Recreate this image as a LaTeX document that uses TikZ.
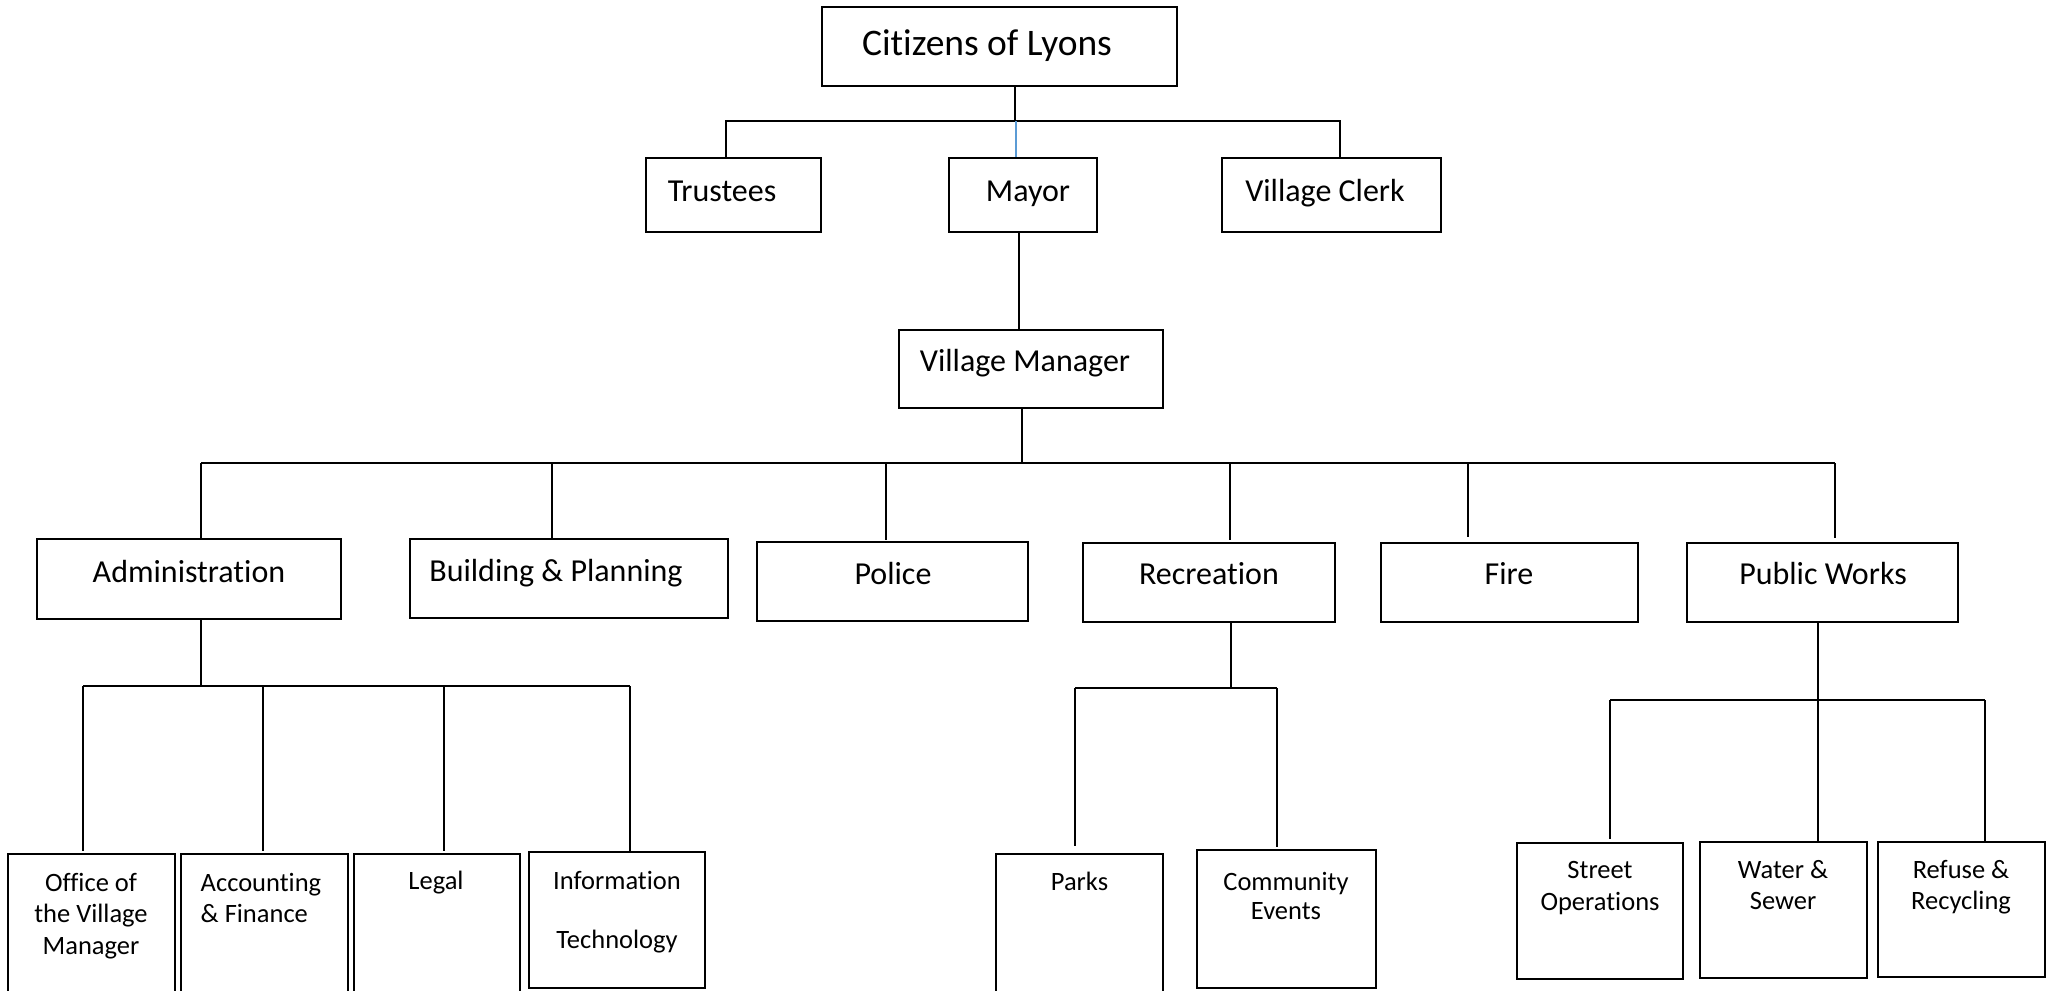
\documentclass[tikz,border=0pt]{standalone}
\usepackage{fontspec}
\setmainfont{Carlito}[Ligatures=NoCommon]
\usetikzlibrary{fit}
\definecolor{linkblue}{RGB}{91,155,213}
\tikzset{
  obox/.style={draw=black, line width=2.2pt, inner sep=0pt, rectangle},
  conn/.style={draw=black, line width=2pt},
  bconn/.style={draw=linkblue, line width=1.6pt},
  tA/.style={font=\fontsize{37.5}{45}\selectfont, anchor=base, inner sep=0pt},
  tB/.style={font=\fontsize{32}{39}\selectfont, anchor=base, inner sep=0pt},
  tC/.style={font=\fontsize{26.5}{31.5}\selectfont, inner sep=0pt},
}
\begin{document}
\begin{tikzpicture}[x=1pt, y=-1pt]
\clip (0,0) rectangle (2049,990);
\fill[white] (0,0) rectangle (2049,990);

% ---- boxes ----
\node[obox, fit={(822,7) (1177,86)}] (cit) {};
\node[obox, fit={(646,158) (821,232)}] (tru) {};
\node[obox, fit={(949,158) (1097,232)}] (may) {};
\node[obox, fit={(1222,158) (1441,232)}] (clk) {};
\node[obox, fit={(899,330) (1163,408)}] (vm) {};

\node[obox, fit={(37,539) (341,619)}] (adm) {};
\node[obox, fit={(410,539) (728,618)}] (bp) {};
\node[obox, fit={(757,542) (1028,621)}] (pol) {};
\node[obox, fit={(1083,543) (1335,622)}] (rec) {};
\node[obox, fit={(1381,543) (1638,622)}] (fir) {};
\node[obox, fit={(1687,543) (1958,622)}] (pw) {};

\node[obox, fit={(8,854) (175,1010)}] (off) {};
\node[obox, fit={(181,854) (348,1010)}] (acc) {};
\node[obox, fit={(354,854) (520,1010)}] (leg) {};
\node[obox, fit={(529,852) (705,988)}] (it) {};
\node[obox, fit={(996,854) (1163,1010)}] (prk) {};
\node[obox, fit={(1197,850) (1376,988)}] (com) {};
\node[obox, fit={(1517,843) (1683,979)}] (str) {};
\node[obox, fit={(1700,842) (1867,978)}] (wat) {};
\node[obox, fit={(1878,842) (2045,977)}] (ref) {};

% ---- labels ----
\node[tA] (lcit) at (987,56) {Citizens of Lyons};
\node[tB] (ltru) at (722,201.5) {Trustees};
\node[tB] (lmay) at (1028,201.5) {Mayor};
\node[tB] (lclk) at (1325,201.5) {Village Clerk};
\node[tB] (lvm) at (1025,371.5) {Village Manager};

\node[tB] (ladm) at (189,582) {Administration};
\node[tB] (lbp) at (556,581) {Building \& Planning};
\node[tB] (lpol) at (893,584) {Police};
\node[tB] (lrec) at (1209,584) {Recreation};
\node[tB] (lfir) at (1509,584) {Fire};
\node[tB] (lpw) at (1823,584) {Public Works};

\node[tC, anchor=north, align=center] (loff) at (91,869) {\strut Office of\\the Village\\Manager};
\node[tC, anchor=north west, align=left] (lacc) at (200.5,869) {\strut Accounting\\\& Finance};
\node[tC, anchor=base] (lleg) at (436,889) {Legal};
\node[tC, anchor=north, align=center] (lit) at (617,867) {\strut Information\\[27.5pt]Technology};
\node[tC, anchor=base] (lprk) at (1079.5,890) {Parks};
\node[tC, anchor=north, align=center] (lcom) at (1286,868) {\strut Community\\[-2.5pt]Events};
\node[tC, anchor=north, align=center] (lstr) at (1600,856.5) {\strut Street\\Operations};
\node[tC, anchor=north, align=center] (lwat) at (1783,856) {\strut Water \&\\Sewer};
\node[tC, anchor=north, align=center] (lref) at (1961,856) {\strut Refuse \&\\Recycling};

% ---- bus coordinates ----
\coordinate (tb) at (1015,121);
\coordinate (tl) at (726,121);
\coordinate (tr) at (1340,121);
\coordinate (tm) at (1016,121);
\coordinate (mv) at (1019,0);

\coordinate (vb) at (1022,463);
\coordinate (dA) at (201,463);
\coordinate (dB) at (552,463);
\coordinate (dP) at (886,463);
\coordinate (dR) at (1230,463);
\coordinate (dF) at (1468,463);
\coordinate (dW) at (1835,463);

\coordinate (aC) at (201,686);
\coordinate (a1) at (83,686);
\coordinate (a2) at (263,686);
\coordinate (a3) at (444,686);
\coordinate (a4) at (630,686);

\coordinate (rC) at (1231,688);
\coordinate (r1) at (1075,688);
\coordinate (r2) at (1277,688);

\coordinate (pC) at (1818,700);
\coordinate (p1) at (1610,700);
\coordinate (p3) at (1985,700);

% ---- connectors ----
\draw[conn] (cit.south -| tb) -- (tb);
\draw[conn] (tru.north -| tl) -- (tl) -- (tr) -- (clk.north -| tr);
\draw[bconn] (tm) -- (may.north -| tm);
\draw[conn] (may.south -| mv) -- (vm.north -| mv);

\draw[conn] (vm.south -| vb) -- (vb);
\draw[conn] (dA) -- (dW);
\draw[conn] (dA) -- (adm.north -| dA);
\draw[conn] (dB) -- (bp.north -| dB);
\draw[conn] (dP) -- ([yshift=1pt]pol.north -| dP);
\draw[conn] (dR) -- ([yshift=2pt]rec.north -| dR);
\draw[conn] (dF) -- ([yshift=5pt]fir.north -| dF);
\draw[conn] (dW) -- ([yshift=4pt]pw.north -| dW);

\draw[conn] (adm.south -| aC) -- (aC);
\draw[conn] (a1) -- (a4);
\draw[conn] (a1) -- ([yshift=2pt]off.north -| a1);
\draw[conn] (a2) -- ([yshift=2pt]acc.north -| a2);
\draw[conn] (a3) -- ([yshift=2pt]leg.north -| a3);
\draw[conn] (a4) -- (it.north -| a4);

\draw[conn] (rec.south -| rC) -- (rC);
\draw[conn] (r1) -- (r2);
\draw[conn] (r1) -- ([yshift=7pt]prk.north -| r1);
\draw[conn] (r2) -- ([yshift=2pt]com.north -| r2);

\draw[conn] (pw.south -| pC) -- (wat.north -| pC);
\draw[conn] (p1) -- (p3);
\draw[conn] (p1) -- ([yshift=3pt]str.north -| p1);
\draw[conn] (p3) -- (ref.north -| p3);
\end{tikzpicture}
\end{document}
